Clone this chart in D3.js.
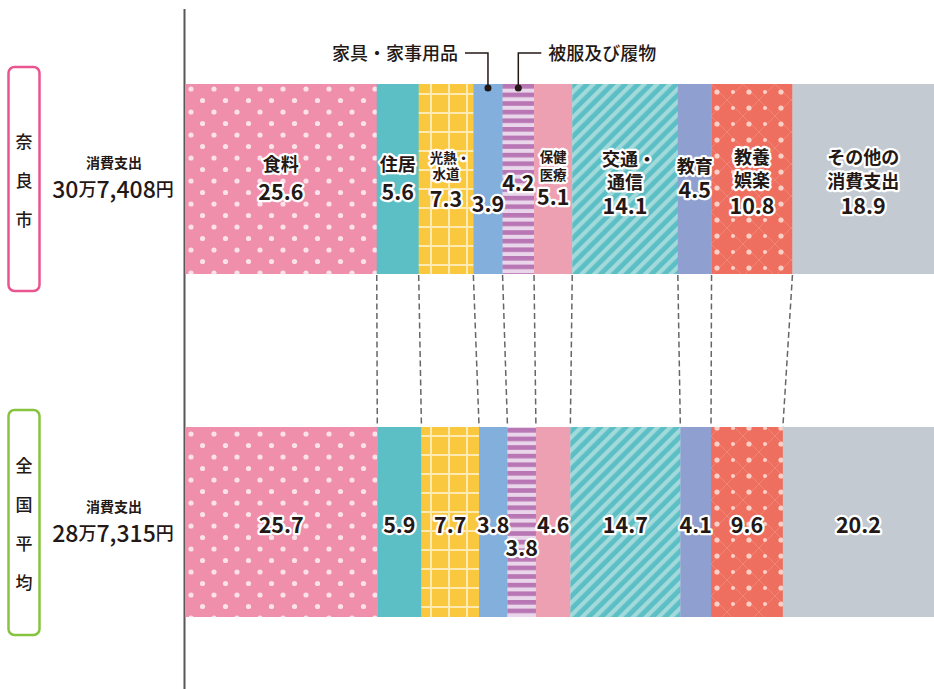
<!DOCTYPE html>
<html><head><meta charset="utf-8">
<script src="https://cdn.jsdelivr.net/npm/d3@7"></script>
<style>
body{margin:0;background:#fff;}
svg{display:block;font-family:"Noto Sans CJK JP","Noto Sans",sans-serif;}
.halo{fill:#231815;stroke:#fff;stroke-width:4.5px;paint-order:stroke;stroke-linejoin:round;font-weight:700;}
</style></head>
<body><svg id="c" width="934" height="689"></svg>
<script>
const categories = ["食料","住居","光熱・水道","家具・家事用品","被服及び履物","保健医療","交通・通信","教育","教養娯楽","その他の消費支出"];
const naraValues = [25.6,5.6,7.3,3.9,4.2,5.1,14.1,4.5,10.8,18.9];
const nationalValues = [25.7,5.9,7.7,3.8,3.8,4.6,14.7,4.1,9.6,20.2];
const labelLines = [["食料"],["住居"],["光熱・","水道"],[],[],["保健","医療"],["交通・","通信"],["教育"],["教養","娯楽"],["その他の","消費支出"]];
const regionNames = ["奈良市","全国平均"];
const totalMan = ["30","28"];
const totalRest = ["7,408","7,315"];

// layout
const x0=185,x1=934;
const rows=[{y:84,h:190,vals:naraValues,color:"#e9568f",box:[67,291]},{y:427,h:190,vals:nationalValues,color:"#86c440",box:[410,635]}];
const topNameY=[[163],[163],[157,173],[],[],[156,174],[158,181],[165],[156,179],[156,180]];
const topValY=[190,190,197,202,181,195,204,188,204,204];
const smallIdx=[2,5];
const fills=["url(#pFood)","#5bbfc5","url(#pGrid)","#82afdc","url(#pStripe)","#eea0b3","url(#pDiag)","#8f9fcf","url(#pDots)","#c3cad2"];

const svg=d3.select("#c");
const defs=svg.append("defs");
// food dots
let p=defs.append("pattern").attr("id","pFood").attr("patternUnits","userSpaceOnUse").attr("width",23).attr("height",23).attr("x",x0+2).attr("y",84);
p.append("rect").attr("width",23).attr("height",23).attr("fill","#ef8fab");
p.append("circle").attr("cx",4).attr("cy",5).attr("r",2.6).attr("fill","#fbe1ea");
p.append("circle").attr("cx",15.5).attr("cy",16.5).attr("r",2.6).attr("fill","#fbe1ea");
// grid
p=defs.append("pattern").attr("id","pGrid").attr("patternUnits","userSpaceOnUse").attr("width",18).attr("height",19).attr("x",0).attr("y",0);
p.append("rect").attr("width",18).attr("height",19).attr("fill","#f9c83f");
p.append("rect").attr("x",16).attr("width",2).attr("height",19).attr("fill","#fdebb3");
p.append("rect").attr("y",17).attr("width",18).attr("height",2).attr("fill","#fdebb3");
// stripes
p=defs.append("pattern").attr("id","pStripe").attr("patternUnits","userSpaceOnUse").attr("width",10).attr("height",8.6).attr("y",84);
p.append("rect").attr("width",10).attr("height",8.6).attr("fill","#e9d6ea");
p.append("rect").attr("width",10).attr("height",4.6).attr("fill","#b877b4");
// diagonal
p=defs.append("pattern").attr("id","pDiag").attr("patternUnits","userSpaceOnUse").attr("width",9).attr("height",9).attr("patternTransform","rotate(45)");
p.append("rect").attr("width",9).attr("height",9).attr("fill","#5bbfc5");
p.append("rect").attr("width",4.2).attr("height",9).attr("fill","#a2d9db");
// coral dots
p=defs.append("pattern").attr("id","pDots").attr("patternUnits","userSpaceOnUse").attr("width",32).attr("height",32).attr("x",711).attr("y",84);
p.append("rect").attr("width",32).attr("height",32).attr("fill","#ee6f5f");
p.append("path").attr("d","M0,0 L16,16 L0,32 M32,0 L16,16 L32,32").attr("stroke","#f08476").attr("stroke-width",1).attr("fill","none");
[[6,8,2.6],[22,8,2.0],[6,24,2.6],[22,24,2.0]].forEach(d=>{p.append("circle").attr("cx",d[0]).attr("cy",d[1]).attr("r",d[2]).attr("fill","#fbd0c7");});

// axis line
svg.append("line").attr("x1",184.5).attr("x2",184.5).attr("y1",9).attr("y2",689).attr("stroke","#595757").attr("stroke-width",2);

const bounds=[];
rows.forEach((r,ri)=>{
  const total=d3.sum(r.vals);
  const x=d3.scaleLinear().domain([0,total]).range([x0,x1]);
  const cum=d3.cumsum(r.vals);
  const starts=[0,...cum.slice(0,-1)];
  bounds.push(cum.slice(0,-1).map(v=>x(v)));
  svg.append("g").selectAll("rect").data(r.vals).join("rect")
    .attr("x",(d,i)=>x(starts[i])).attr("y",r.y)
    .attr("width",(d,i)=>x(starts[i]+d)-x(starts[i])+0.3).attr("height",r.h)
    .attr("fill",(d,i)=>fills[i]);
  const g=svg.append("g");
  r.vals.forEach((v,i)=>{
    const cx=(x(starts[i])+x(starts[i]+v))/2;
    if(ri===0){
      const small=smallIdx.includes(i);
      const tx=g.append("text").attr("class","halo").attr("text-anchor","middle").attr("dominant-baseline","central");
      labelLines[i].forEach((t,li)=>{
        tx.append("tspan").attr("x",cx+(t.endsWith("・")?4:0)).attr("y",topNameY[i][li])
          .attr("font-size",small?13.5:18).attr("font-weight",small?600:600).text(t);
      });
      tx.append("tspan").attr("x",cx).attr("y",topValY[i]).attr("font-size",21.5).text(d3.format(".1f")(v));
    } else {
      g.append("text").attr("class","halo").attr("x",cx).attr("y",i===4?546:523).attr("text-anchor","middle")
        .attr("dominant-baseline","central").attr("font-size",21.5).text(d3.format(".1f")(v));
    }
  });
  // region box
  svg.append("rect").attr("x",8.5).attr("y",r.box[0]).attr("width",31).attr("height",r.box[1]-r.box[0]).attr("rx",6)
    .attr("fill","none").attr("stroke",r.color).attr("stroke-width",2.5);
  const chars=Array.from(regionNames[ri]);
  const mid=(r.box[0]+r.box[1])/2, step=39;
  chars.forEach((c,ci)=>{
    svg.append("text").attr("x",24).attr("y",mid+(ci-(chars.length-1)/2)*step).attr("text-anchor","middle")
      .attr("dominant-baseline","central").attr("font-size",17).attr("font-weight",500).attr("fill","#231815").text(c);
  });
  svg.append("text").attr("x",114).attr("y",mid-17).attr("text-anchor","middle").attr("dominant-baseline","central")
    .attr("font-size",14).attr("font-weight",700).attr("fill","#231815").text("消費支出");
  const t=svg.append("text").attr("x",113).attr("y",mid+9).attr("text-anchor","middle").attr("dominant-baseline","central")
    .attr("fill","#231815").attr("font-weight",500);
  t.append("tspan").attr("font-size",23).text(totalMan[ri]);
  t.append("tspan").attr("font-size",18).text("万");
  t.append("tspan").attr("font-size",23).text(totalRest[ri]);
  t.append("tspan").attr("font-size",18).text("円");
});

// dashed connectors
svg.append("g").selectAll("line").data(bounds[0]).join("line")
  .attr("x1",d=>d).attr("y1",275).attr("x2",(d,i)=>bounds[1][i]).attr("y2",427)
  .attr("stroke","#666").attr("stroke-width",1.5).attr("stroke-dasharray","6,3.5");

// top callouts
const xT=d3.scaleLinear().domain([0,d3.sum(naraValues)]).range([x0,x1]);
const cumT=d3.cumsum(naraValues);
const cFurn=(xT(cumT[2])+xT(cumT[3]))/2, cCloth=(xT(cumT[3])+xT(cumT[4]))/2;
svg.append("path").attr("d",`M${cFurn-23},53 H${cFurn} V88`).attr("fill","none").attr("stroke","#231815").attr("stroke-width",1.5);
svg.append("circle").attr("cx",cFurn).attr("cy",88).attr("r",3.5).attr("fill","#231815");
svg.append("text").attr("x",cFurn-30).attr("y",52).attr("text-anchor","end").attr("dominant-baseline","central")
  .attr("font-size",18).attr("font-weight",500).attr("fill","#231815").text(categories[3]);
svg.append("path").attr("d",`M${cCloth+23},53 H${cCloth} V88`).attr("fill","none").attr("stroke","#231815").attr("stroke-width",1.5);
svg.append("circle").attr("cx",cCloth).attr("cy",88).attr("r",3.5).attr("fill","#231815");
svg.append("text").attr("x",cCloth+30).attr("y",52).attr("text-anchor","start").attr("dominant-baseline","central")
  .attr("font-size",18).attr("font-weight",500).attr("fill","#231815").text(categories[4]);
</script></body></html>
